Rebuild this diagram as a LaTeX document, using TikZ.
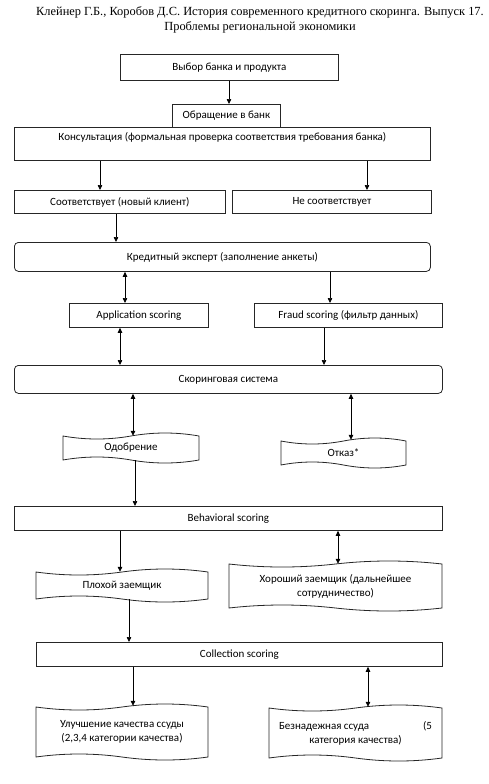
\documentclass[tikz,border=0pt]{standalone}
\usepackage{fontspec}
\setmainfont{Carlito}
\newfontfamily\titlefont{Liberation Serif}
\usetikzlibrary{arrows.meta,calc}
\tikzset{
  box/.style={draw=black!85, line width=0.8pt, inner sep=0pt, align=center,
    font=\fontsize{11}{14}\selectfont, anchor=north west},
  rbox/.style={box, rounded corners=4pt},
  tapetext/.style={inner sep=0pt, align=center, font=\fontsize{11}{14}\selectfont},
  tapeline/.style={draw=black!85, line width=0.8pt},
  arr/.style={line width=0.7pt, -{Triangle[length=5pt,width=4.5pt]}},
  darr/.style={line width=0.7pt, {Triangle[length=5pt,width=4.5pt]}-{Triangle[length=5pt,width=4.5pt]}}
}
% name, x0, x1, yt, yb, text
\newcommand\tapenode[6]{%
  \pgfmathsetmacro\tw{#3-#2}%
  \pgfmathsetmacro\th{#5-#4}%
  \pgfmathsetmacro\tcx{(#2+#3)/2}%
  \pgfmathsetmacro\tcy{(#4+#5)/2}%
  \pgfmathsetmacro\xa{#2+\tw/6}%
  \pgfmathsetmacro\xb{#2+\tw/3}%
  \pgfmathsetmacro\xc{\tcx+\tw/6}%
  \pgfmathsetmacro\xd{\tcx+\tw/3}%
  \node[tapetext, minimum width=\tw pt, minimum height=\th pt] (#1) at (\tcx,\tcy) {#6};
  \draw[tapeline] (#2,#4) .. controls (\xa,#4+4) and (\xb,#4+4) .. (\tcx,#4)
     .. controls (\xc,#4-4) and (\xd,#4-4) .. (#3,#4) -- (#3,#5)
     .. controls (\xd,#5+4) and (\xc,#5+4) .. (\tcx,#5)
     .. controls (\xb,#5-4) and (\xa,#5-4) .. (#2,#5) -- cycle;
}
\begin{document}
\begin{tikzpicture}[x=1pt,y=-1pt]
\useasboundingbox (0,0) rectangle (489,784);
\node[align=center, font=\titlefont\fontsize{12.4}{15}\selectfont] (title) at (260,20)
  {Клейнер Г.Б., Коробов Д.С. История современного кредитного скоринга. Выпуск 17.\\
   Проблемы региональной экономики};

\node[box, minimum width=218pt, minimum height=26pt] (b1) at (120,54) {Выбор банка и продукта};
\node[box, minimum width=108pt, minimum height=23pt] (b2) at (172,104) {Обращение в банк};
\node[box, minimum width=416pt, minimum height=33pt, text height=8pt, text depth=14pt] (b3) at (14,127)
  {Консультация (формальная проверка соответствия требования банка)};
\node[box, minimum width=211pt, minimum height=23pt] (b4) at (14,190) {Соответствует (новый клиент)};
\node[box, minimum width=199pt, minimum height=23pt] (b5) at (232,190) {Не соответствует};
\node[rbox, minimum width=416pt, minimum height=29pt] (b6) at (14,242) {Кредитный эксперт (заполнение анкеты)};
\node[box, minimum width=139pt, minimum height=24pt] (b7) at (69,303) {Application scoring};
\node[box, minimum width=188pt, minimum height=24pt] (b8) at (254,303) {Fraud scoring (фильтр данных)};
\node[rbox, minimum width=428pt, minimum height=28pt] (b9) at (14,365) {Скоринговая система};
\tapenode{t1}{63}{199}{436}{460}{Одобрение}
\tapenode{t2}{281}{406}{441}{465}{Отказ*}
\node[box, minimum width=428pt, minimum height=24pt] (b10) at (14,506) {Behavioral scoring};
\tapenode{t3}{36}{208}{572}{599}{Плохой заемщик}
\tapenode{t4}{229}{442}{564}{608}{Хороший заемщик (дальнейшее\\сотрудничество)}
\node[box, minimum width=406pt, minimum height=24pt] (b11) at (36,642) {Collection scoring};
\tapenode{t5}{36}{208}{707}{757}{Улучшение качества ссуды\\(2,3,4 категории качества)}
\tapenode{t6}{269}{442}{708}{758}{\makebox[153pt]{Безнадежная ссуда\hfill(5}\\категория качества)}

\draw[arr] (b1.south -| 229,0) -- (b2.north -| 229,0);
\draw[arr] (b3.south -| 100,0) -- (b4.north -| 100,0);
\draw[arr] (b3.south -| 367,0) -- (b5.north -| 367,0);
\draw[arr] (b4.south -| 116,0) -- (b6.north -| 116,0);
\draw[darr] (b6.south -| 125,0) -- (b7.north -| 125,0);
\draw[arr] (b6.south -| 330,0) -- (b8.north -| 330,0);
\draw[darr] (b7.south -| 120,0) -- (b9.north -| 120,0);
\draw[arr] (b8.south -| 324,0) -- (b9.north -| 324,0);
\draw[darr] (b9.south -| 133,0) -- (t1.north -| 133,0);
\draw[darr] (b9.south -| 351,0) -- ($(t2.north -| 351,0)+(0,-1)$);
\draw[arr] (t1.south -| 135,0) -- (b10.north -| 135,0);
\draw[arr] (b10.south -| 120,0) -- (t3.north -| 120,0);
\draw[darr] (b10.south -| 338,0) -- (t4.north -| 338,0);
\draw[arr] (t3.south -| 129,0) -- (b11.north -| 129,0);
\draw[arr] (b11.south -| 133,0) -- ($(t5.north -| 133,0)+(0,-1)$);
\draw[darr] (b11.south -| 368,0) -- ($(t6.north -| 368,0)+(0,-1)$);
\end{tikzpicture}
\end{document}
